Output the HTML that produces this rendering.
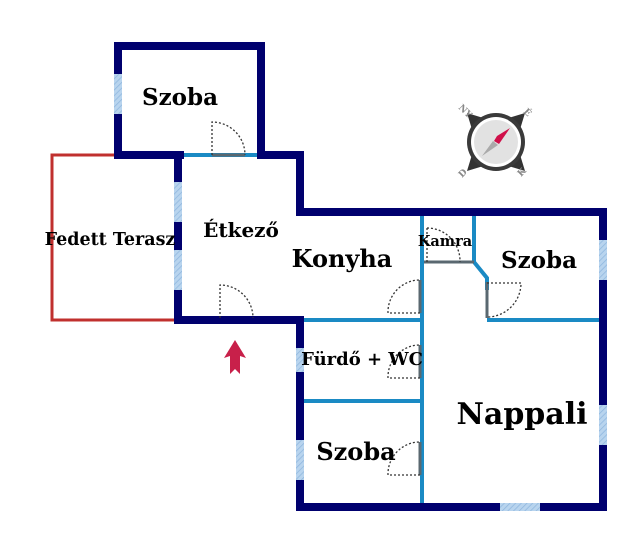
<!DOCTYPE html>
<html><head><meta charset="utf-8"><style>
html,body{margin:0;padding:0;background:#fff;width:640px;height:542px;overflow:hidden}
text{font-family:"DejaVu Serif","Liberation Serif",serif;font-weight:bold;fill:#000}
</style></head><body>
<svg width="640" height="542" viewBox="0 0 640 542" xmlns="http://www.w3.org/2000/svg">
<defs>
<pattern id="h" width="4" height="4" patternUnits="userSpaceOnUse" patternTransform="rotate(45)">
<rect width="4" height="4" fill="#b8d4ee"/><line x1="0" y1="0" x2="0" y2="4" stroke="#8fb6de" stroke-width="1.5"/>
</pattern>
</defs>
<g stroke="#c0302e" stroke-width="3" fill="none">
<polyline points="118,155 52,155 52,320 178,320"/>
</g>
<g stroke="#1a8ac4" stroke-width="4" fill="none">
<line x1="180" y1="155" x2="261" y2="155"/>
<line x1="422" y1="212" x2="422" y2="503"/>
<line x1="300" y1="320" x2="422" y2="320"/>
<line x1="300" y1="401" x2="422" y2="401"/>
<line x1="487" y1="320" x2="603" y2="320"/>
<line x1="474" y1="212" x2="474" y2="262"/>
<polyline points="474,262 487,278 487,290"/>
</g>
<g stroke="#5a6870" stroke-width="3" fill="none">
<line x1="212" y1="155" x2="245" y2="155"/>
<line x1="424" y1="262" x2="474" y2="262"/>
<line x1="487" y1="282" x2="487" y2="318"/>
<line x1="420" y1="280" x2="420" y2="313"/>
<line x1="420" y1="345" x2="420" y2="378"/>
<line x1="420" y1="442" x2="420" y2="475"/>
</g>
<g stroke="#8a8a9a" stroke-width="3"><line x1="220" y1="318" x2="253" y2="318"/></g>
<g stroke="#00006e" stroke-width="8" fill="none" stroke-linecap="square">
<polyline points="118,155 118,46 261,46 261,155"/>
<line x1="118" y1="155" x2="180" y2="155"/>
<polyline points="261,155 300,155 300,212 603,212 603,507 300,507 300,320"/>
<polyline points="178,155 178,320 300,320"/>
</g>
<g fill="url(#h)">
<rect x="114" y="74" width="8" height="40"/>
<rect x="174" y="182" width="8" height="40"/>
<rect x="174" y="250" width="8" height="40"/>
<rect x="599" y="240" width="8" height="40"/>
<rect x="599" y="405" width="8" height="40"/>
<rect x="296" y="348" width="8" height="24"/>
<rect x="296" y="440" width="8" height="40"/>
<rect x="500" y="503" width="40" height="8"/>
</g>
<g stroke="#333" stroke-width="1.3" fill="none" stroke-dasharray="2,2">
<path d="M212,155 L212,122 A33,33 0 0 1 245,155"/>
<path d="M220,318 L220,285 A33,33 0 0 1 253,318"/>
<path d="M420,313 L388,313 A32,32 0 0 1 420,280"/>
<path d="M420,378 L388,378 A32,32 0 0 1 420,345"/>
<path d="M420,475 L388,475 A32,32 0 0 1 420,442"/>
<path d="M427,228 A33,33 0 0 1 460,262 M427,262 L427,228"/>
<path d="M487,283 L521,283 A34,34 0 0 1 487,317"/>
</g>
<text x="180" y="105" font-size="23" text-anchor="middle">Szoba</text>
<text x="110" y="245" font-size="17.5" text-anchor="middle">Fedett Terasz</text>
<text x="241" y="237" font-size="20" text-anchor="middle">Étkező</text>
<text x="342" y="267" font-size="24" text-anchor="middle">Konyha</text>
<text x="445" y="246" font-size="14.5" text-anchor="middle">Kamra</text>
<text x="539" y="268" font-size="23" text-anchor="middle">Szoba</text>
<text x="362" y="365" font-size="18" text-anchor="middle">Fürdő + WC</text>
<text x="522" y="424" font-size="30" text-anchor="middle">Nappali</text>
<text x="356" y="460" font-size="24" text-anchor="middle">Szoba</text>
<polygon points="235,340 246,358 240,356 240,374 235,369 230,374 230,356 224,358" fill="#c8204a"/>
<g transform="translate(496,142)">
<g fill="#333">
<polygon points="-29,-29 -6,-22 -22,-6"/>
<polygon points="29,-29 6,-22 22,-6"/>
<polygon points="29,29 6,22 22,6"/>
<polygon points="-29,29 -6,22 -22,6"/>
</g>
<circle r="29" fill="#3a3a3a"/>
<circle r="25" fill="#fff"/>
<circle r="22" fill="#e2e2e2"/>
<polygon points="14,-14 1,-6 -2,-1 3,2" fill="#d0104a"/>
<polygon points="-14,14 -3,-1 2,3 " fill="#aaa"/>
<text x="-38" y="-34" font-size="9" style="fill:#888" transform="rotate(45 -38 -34)">NY</text>
<text x="27" y="-30" font-size="9" style="fill:#888" transform="rotate(45 27 -30)">É</text>
<text x="-34" y="36" font-size="9" style="fill:#888" transform="rotate(-45 -34 36)">D</text>
<text x="25" y="35" font-size="9" style="fill:#888" transform="rotate(-45 25 35)">K</text>
</g>
</svg>
</body></html>
